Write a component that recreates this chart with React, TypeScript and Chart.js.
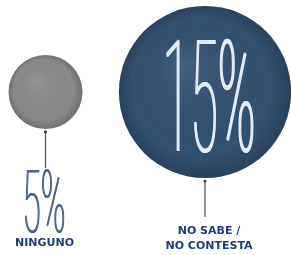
import React, { useEffect, useRef } from "react";
import { Chart, registerables } from "chart.js";

Chart.register(...registerables);

const categories = ["NINGUNO", "NO SABE / NO CONTESTA"];
const labelLines = [["NINGUNO"], ["NO SABE /", "NO CONTESTA"]];
const values = [5, 15];
const valueLabels = ["5%", "15%"];
const bubbleColors = ["#88898b", "#33506f"];

const radiusFor = (v: number) => 10.7 * Math.pow(v, 0.77);

const decorPlugin = {
  id: "decor",
  afterDatasetsDraw(chart: any) {
    const ctx: CanvasRenderingContext2D = chart.ctx;
    const meta = chart.getDatasetMeta(0);
    meta.data.forEach((el: any, i: number) => {
      const x = el.x;
      const y = el.y;
      const r = el.options.radius;
      ctx.save();
      // shading
      const g = ctx.createRadialGradient(x - r * 0.25, y - r * 0.3, r * 0.05, x, y, r);
      g.addColorStop(0, "rgba(255,255,255,0.08)");
      g.addColorStop(0.8, "rgba(0,0,0,0)");
      g.addColorStop(1, "rgba(0,0,0,0.18)");
      ctx.fillStyle = g;
      ctx.beginPath();
      ctx.arc(x, y, r, 0, Math.PI * 2);
      ctx.fill();

      // stem
      const stemTop = y + r + 2;
      const stemBottom = y + r + 39;
      ctx.strokeStyle = "#3d4b5e";
      ctx.lineWidth = 1.2;
      ctx.beginPath();
      ctx.moveTo(x, stemTop);
      ctx.lineTo(x, stemBottom);
      ctx.stroke();
      ctx.fillStyle = "#3d4b5e";
      ctx.beginPath();
      ctx.arc(x, stemTop + 1, 1.6, 0, Math.PI * 2);
      ctx.fill();

      const inside = r > 50;
      const drawThin = (text: string, cx: number, baseline: number, size: number, targetW: number, color: string, spread: number) => {
        ctx.save();
        ctx.font = `100 ${size}px Roboto`;
        const w = ctx.measureText(text).width;
        const sx = targetW / w;
        ctx.fillStyle = color;
        ctx.textAlign = "center";
        ctx.textBaseline = "alphabetic";
        for (const dx of [0, spread / 2, spread]) {
          ctx.save();
          ctx.translate(cx + dx - spread / 2, baseline);
          ctx.scale(sx, 1);
          ctx.fillText(text, 0, 0);
          ctx.restore();
        }
        ctx.restore();
      };

      if (inside) {
        drawThin(valueLabels[i], x + 4, y + 59, 156, 93, "#e4ebf3", 1.4);
      } else {
        drawThin(valueLabels[i], x - 1.5, stemBottom + 64, 87, 43, "#4f6683", 1.0);
      }

      // category label
      const lines = labelLines[i];
      ctx.fillStyle = "#213d79";
      ctx.font = "bold 11px 'DejaVu Sans'";
      ctx.textAlign = "center";
      ctx.textBaseline = "middle";
      let ly = inside ? stemBottom + 14 : stemBottom + 75;
      lines.forEach((t: string) => {
        ctx.fillText(t, x + (inside ? 4 : -1), ly);
        ly += 15;
      });
      ctx.restore();
    });
  },
};

export default function App() {
  const ref = useRef<HTMLCanvasElement | null>(null);
  useEffect(() => {
    document.body.style.margin = "0";
    const canvas = ref.current!;
    const chart = new Chart(canvas, {
      type: "bubble",
      data: {
        labels: categories,
        datasets: [
          {
            label: "Respuesta",
            data: values.map((v, i) => ({ x: categories[i], y: 0, r: radiusFor(v) })) as any,
            backgroundColor: bubbleColors,
            borderWidth: 0,
            hoverRadius: 0,
            clip: false as any,
          },
        ],
      },
      options: {
        animation: false,
        responsive: false,
        events: [],
        layout: { autoPadding: false, padding: { left: 45.5, right: 86, top: 0, bottom: 71 } },
        plugins: { legend: { display: false }, tooltip: { enabled: false } },
        scales: {
          x: { type: "category", offset: false, display: false },
          y: { type: "linear", min: -1, max: 1, display: false },
        },
      },
      plugins: [decorPlugin],
    });
    return () => chart.destroy();
  }, []);
  return (
    <div style={{ position: "fixed", left: 0, top: 0, width: 291, height: 255, background: "#fff" }}>
      <canvas ref={ref} width={291} height={255} />
    </div>
  );
}
